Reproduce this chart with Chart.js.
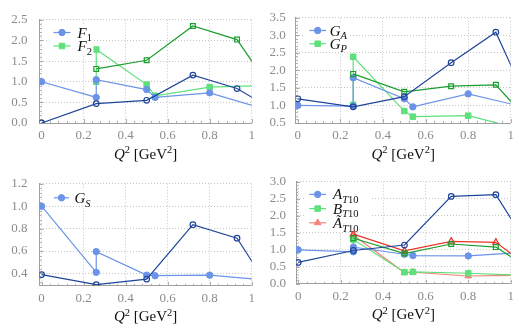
<!DOCTYPE html>
<html>
<head>
<meta charset="utf-8">
<script src="https://cdn.jsdelivr.net/npm/chart.js@4.4.0/dist/chart.umd.min.js"></script>
<style>
  html, body { margin: 0; padding: 0; background: #fff; }
  body { position: relative; width: 519px; height: 328px; overflow: hidden; }
  .panel { position: absolute; }
  canvas { display: block; }
</style>
</head>
<body>
<div class="panel" style="left:0;top:0"><canvas id="panelF" width="260" height="164"></canvas></div>
<div class="panel" style="left:260px;top:0"><canvas id="panelG" width="259" height="164"></canvas></div>
<div class="panel" style="left:0;top:164px"><canvas id="panelS" width="260" height="164"></canvas></div>
<div class="panel" style="left:260px;top:164px"><canvas id="panelT" width="259" height="164"></canvas></div>
<script>
// Q^2 positions: filled-marker series and open-marker series (last value sits past the axis end)
const q2Filled = [0, 0.26, 0.26, 0.5, 0.54, 0.8, 1.1];
const q2Open = [0, 0.26, 0.5, 0.72, 0.93, 1.13];
const q2Ticks = [0, 0.2, 0.4, 0.6, 0.8, 1];

// top left
const f1Filled = [1.0, 0.62, 1.05, 0.81, 0.62, 0.73, 0.28];
const f2Filled = [1.0, 1.78, 0.93, 0.66, 0.87, 0.915];
const f1Open = [0, 0.47, 0.55, 1.16, 0.835, 0.23];
const f2Open = [1.31, 1.52, 2.35, 2.02, 0.54];
const ticksF = [0, 0.5, 1, 1.5, 2, 2.5];

// top right
const gaFilled = [1.0, 0.98, 1.79, 1.19, 0.96, 1.33, 0.9];
const gpFilled = [1.02, 2.39, 0.84, 0.68, 0.71, 0.245];
const gaOpen = [1.19, 0.96, 1.25, 2.22, 3.09, 0.41];
const gpOpen = [1.9, 1.39, 1.55, 1.59, 0.25];
const ticksG = [0.5, 1, 1.5, 2, 2.5, 3, 3.5];

// bottom left
const gsFilled = [1.0, 0.41, 0.595, 0.385, 0.38, 0.385, 0.335];
const gsOpen = [0.39, 0.3, 0.35, 0.835, 0.715, 0.13];
const ticksS = [0.4, 0.6, 0.8, 1, 1.2];

// bottom right
const atFilled = [1.0, 0.94, 1.08, 0.87, 0.83, 0.82, 0.94];
const btFilled = [1.0, 1.3, 0.34, 0.35, 0.31, 0.235];
const attFilled = [1.0, 1.43, 0.33, 0.34, 0.23, 0.26];
const atOpen = [0.63, 0.98, 1.14, 2.57, 2.62, 0.64];
const btOpen = [1.34, 0.89, 1.17, 1.08, 0.28];
const attOpen = [1.46, 0.97, 1.25, 1.22, 0.3];
const ticksT = [0, 0.5, 1, 1.5, 2, 2.5, 3];

// legend labels: [text, style]  i = italic, r = roman, sub/isub = subscript, sup = superscript
const labelsF = [[["F", "i"], ["1", "sub"]], [["F", "i"], ["2", "sub"]]];
const labelsG = [[["G", "i"], ["A", "isub"]], [["G", "i"], ["P", "isub"]]];
const labelsS = [[["G", "i"], ["S", "isub"]]];
const labelsT = [
  [["A", "i"], ["T", "isub"], ["10", "sub"]],
  [["B", "i"], ["T", "isub"], ["10", "sub"]],
  [["Ã", "i"], ["T", "isub"], ["10", "sub"]]
];
const axisTitle = [["Q", "i"], ["2", "sup"], [" [GeV", "r"], ["2", "sup"], ["]", "r"]];

const SERIF = '"Liberation Serif", "DejaVu Serif", serif';
const DARK_BLUE = "#1f459b";
const LIGHT_BLUE = "#6b93e8";
const DARK_GREEN = "#1b9e30";
const LIGHT_GREEN = "#5fe07b";
const RED = "#e8362c";
const SALMON = "#f4837a";

function pts(xs, ys) {
  return ys.map((y, i) => ({ x: xs[i], y }));
}

function filledSeries(xs, ys, color, style) {
  const radius = style === "rect" ? 3.9 : style === "triangle" ? 3.8 : 3.2;
  return {
    data: pts(xs, ys), borderColor: color, backgroundColor: color, borderWidth: 1.2,
    pointStyle: style, pointRadius: radius, pointBorderWidth: 1, pointBorderColor: color,
    pointBackgroundColor: color, tension: 0, fill: false
  };
}

function openSeries(xs, ys, color, style) {
  const radius = style === "rect" ? 3.4 : style === "triangle" ? 3.7 : 2.8;
  return {
    data: pts(xs, ys), borderColor: color, backgroundColor: "rgba(0,0,0,0)", borderWidth: 1.2,
    pointStyle: style, pointRadius: radius, pointBorderWidth: 1.2, pointBorderColor: color,
    pointBackgroundColor: "rgba(0,0,0,0)", tension: 0, fill: false
  };
}

function drawRich(ctx, parts, x, y, size, align) {
  const small = size * 0.7;
  const fonts = {
    i: `italic ${size}px ${SERIF}`, r: `${size}px ${SERIF}`,
    sub: `${small}px ${SERIF}`, isub: `italic ${small}px ${SERIF}`, sup: `${small}px ${SERIF}`
  };
  const shift = { i: 0, r: 0, sub: size * 0.25, isub: size * 0.25, sup: -size * 0.38 };
  let total = 0;
  const widths = parts.map(([t, s]) => {
    ctx.font = fonts[s];
    const w = ctx.measureText(t).width;
    total += w;
    return w;
  });
  let cx = align === "center" ? x - total / 2 : x;
  ctx.textAlign = "left";
  ctx.textBaseline = "alphabetic";
  parts.forEach(([t, s], i) => {
    ctx.font = fonts[s];
    ctx.fillText(t, cx, y + shift[s]);
    cx += widths[i];
  });
  return total;
}

function drawMarker(ctx, ds, x, y) {
  const r = ds.pointRadius;
  ctx.beginPath();
  if (ds.pointStyle === "rect") {
    const s = r * Math.SQRT1_2;
    ctx.rect(x - s, y - s, 2 * s, 2 * s);
  } else if (ds.pointStyle === "triangle") {
    ctx.moveTo(x, y - r);
    ctx.lineTo(x + r * 0.866, y + r * 0.5);
    ctx.lineTo(x - r * 0.866, y + r * 0.5);
    ctx.closePath();
  } else {
    ctx.arc(x, y, r, 0, Math.PI * 2);
  }
  ctx.fillStyle = ds.pointBackgroundColor;
  ctx.fill();
  ctx.lineWidth = ds.pointBorderWidth;
  ctx.strokeStyle = ds.pointBorderColor;
  ctx.stroke();
}

function decor(spec) {
  return {
    id: "decor",
    beforeDatasetsDraw(chart) {
      // inward major and minor ticks on the left and bottom axis lines
      const { ctx, chartArea: a, scales: { x, y } } = chart;
      ctx.save();
      ctx.strokeStyle = "#9a9a9a";
      ctx.lineWidth = 0.8;
      for (let k = 0; k <= 25; k++) {
        const px = Math.round(x.getPixelForValue(k * 0.04)) + 0.5;
        const len = k % 5 === 0 ? 4 : 2;
        ctx.beginPath();
        ctx.moveTo(px, a.bottom);
        ctx.lineTo(px, a.bottom - len);
        ctx.stroke();
      }
      const step = spec.yStep / 5;
      const t0 = spec.yTicks[0];
      const kMin = Math.ceil((y.min - t0) / step - 1e-6);
      const kMax = Math.floor((y.max - t0) / step + 1e-6);
      for (let k = kMin; k <= kMax; k++) {
        const py = Math.round(y.getPixelForValue(t0 + k * step)) + 0.5;
        const len = ((k % 5) + 5) % 5 === 0 ? 4 : 2;
        ctx.beginPath();
        ctx.moveTo(a.left, py);
        ctx.lineTo(a.left + len, py);
        ctx.stroke();
      }
      ctx.restore();
    },
    afterDatasetsDraw(chart) {
      const { ctx, chartArea: a } = chart;
      const L = spec.legend;
      ctx.save();
      ctx.fillStyle = "#fff";
      ctx.fillRect(a.left + L.x0 - 4, a.top + L.y0 - 8, L.w, L.gap * (spec.labels.length - 1) + 16);
      spec.labels.forEach((parts, i) => {
        const ds = chart.data.datasets[spec.legendSets[i]];
        const y = a.top + L.y0 + i * L.gap;
        ctx.strokeStyle = ds.borderColor;
        ctx.lineWidth = ds.borderWidth;
        ctx.beginPath();
        ctx.moveTo(a.left + L.x0, y);
        ctx.lineTo(a.left + L.x1, y);
        ctx.stroke();
        drawMarker(ctx, ds, a.left + (L.x0 + L.x1) / 2, y);
        ctx.fillStyle = "#111";
        drawRich(ctx, parts, a.left + L.tx, y + 5, 15, "left");
      });
      ctx.restore();
    },
    afterDraw(chart) {
      const { ctx, chartArea: a } = chart;
      ctx.save();
      ctx.fillStyle = "#111";
      drawRich(ctx, axisTitle, (a.left + a.right) / 2, a.bottom + 35.5, 15, "center");
      ctx.restore();
    }
  };
}

function makePanel(id, spec) {
  const canvas = document.getElementById(id);
  const W = canvas.width;
  const H = canvas.height;
  const tickFont = { family: SERIF, size: 13 };
  return new Chart(canvas, {
    type: "line",
    data: { datasets: spec.datasets },
    options: {
      responsive: false,
      animation: false,
      events: [],
      layout: { padding: { top: spec.area.top, left: 0, right: W - spec.area.right, bottom: 0 } },
      plugins: { legend: { display: false }, tooltip: { enabled: false } },
      scales: {
        x: {
          type: "linear", min: -0.01, max: 1,
          afterBuildTicks: s => { s.ticks = q2Ticks.map(v => ({ value: v })); },
          afterFit: s => { s.height = H - spec.area.bottom; },
          grid: { color: "#b9b9b9", lineWidth: 0.8, drawTicks: false },
          border: { display: true, color: "#a0a0a0", width: 1, dash: [1, 2] },
          ticks: {
            color: "#8c8c8c", font: tickFont, padding: 5, maxRotation: 0, autoSkip: false,
            callback: v => (v === 0 ? "0" : v === 1 ? "1" : v.toFixed(1))
          }
        },
        y: {
          type: "linear", min: spec.yMin, max: spec.yMax,
          afterBuildTicks: s => { s.ticks = spec.yTicks.map(v => ({ value: v })); },
          afterFit: s => { s.width = spec.area.left; },
          grid: { color: "#b9b9b9", lineWidth: 0.8, drawTicks: false },
          border: { display: true, color: "#a0a0a0", width: 1, dash: [1, 2] },
          ticks: {
            color: "#8c8c8c", font: tickFont, padding: spec.yPad, autoSkip: false,
            callback: v => v.toFixed(1)
          }
        }
      }
    },
    plugins: [decor(spec)]
  });
}

const later = xs => xs.slice(1);

makePanel("panelF", {
  area: { left: 39.5, top: 15, right: 256, bottom: 123 },
  yMin: 0, yMax: 2.5, yTicks: ticksF, yStep: 0.5, yPad: 12,
  datasets: [
    openSeries(q2Open, f1Open, DARK_BLUE, "circle"),
    openSeries(later(q2Open), f2Open, DARK_GREEN, "rect"),
    filledSeries(q2Filled, f1Filled, LIGHT_BLUE, "circle"),
    filledSeries(later(q2Filled), f2Filled, LIGHT_GREEN, "rect")
  ],
  labels: labelsF, legendSets: [2, 3],
  legend: { x0: 14, x1: 31, tx: 38, y0: 12.7, gap: 13.5, w: 44 }
});

makePanel("panelG", {
  area: { left: 35.7, top: 15, right: 252, bottom: 123 },
  yMin: 0.5, yMax: 3.5, yTicks: ticksG, yStep: 0.5, yPad: 10,
  datasets: [
    openSeries(q2Open, gaOpen, DARK_BLUE, "circle"),
    openSeries(later(q2Open), gpOpen, DARK_GREEN, "rect"),
    filledSeries(q2Filled, gaFilled, LIGHT_BLUE, "circle"),
    filledSeries(later(q2Filled), gpFilled, LIGHT_GREEN, "rect")
  ],
  labels: labelsG, legendSets: [2, 3],
  legend: { x0: 13.6, x1: 30.3, tx: 34, y0: 12.7, gap: 13.2, w: 43 }
});

makePanel("panelS", {
  area: { left: 39.5, top: 12.6, right: 256, bottom: 121.8 },
  yMin: 0.29, yMax: 1.2, yTicks: ticksS, yStep: 0.2, yPad: 12,
  datasets: [
    openSeries(q2Open, gsOpen, DARK_BLUE, "circle"),
    filledSeries(q2Filled, gsFilled, LIGHT_BLUE, "circle")
  ],
  labels: labelsS, legendSets: [1],
  legend: { x0: 14.5, x1: 29.5, tx: 35, y0: 14, gap: 13.5, w: 42 }
});

makePanel("panelT", {
  area: { left: 36, top: 13.4, right: 252, bottom: 119.8 },
  yMin: 0, yMax: 3, yTicks: ticksT, yStep: 0.5, yPad: 10,
  datasets: [
    openSeries(q2Open, atOpen, DARK_BLUE, "circle"),
    openSeries(later(q2Open), btOpen, DARK_GREEN, "rect"),
    openSeries(later(q2Open), attOpen, RED, "triangle"),
    filledSeries(q2Filled, atFilled, LIGHT_BLUE, "circle"),
    filledSeries(later(q2Filled), btFilled, LIGHT_GREEN, "rect"),
    filledSeries(later(q2Filled), attFilled, SALMON, "triangle")
  ],
  labels: labelsT, legendSets: [3, 4, 5],
  legend: { x0: 13.3, x1: 30, tx: 37, y0: 12.6, gap: 14.2, w: 66 }
});
</script>
</body>
</html>
